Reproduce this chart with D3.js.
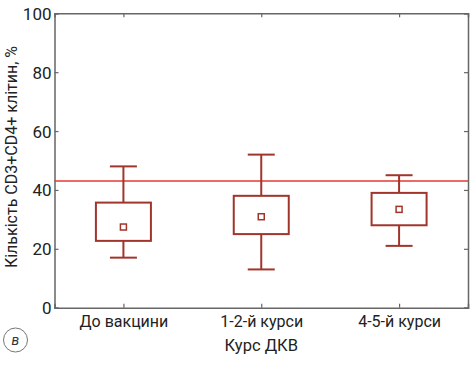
<!DOCTYPE html>
<html><head><meta charset="utf-8">
<script src="https://cdn.jsdelivr.net/npm/d3@7"></script>
<style>body{margin:0;background:#fff}svg{display:block}text{font-family:"Roboto","Noto Sans",sans-serif}</style>
</head><body>
<svg id="c" width="473" height="366"></svg>
<script>
const categories = ["До вакцини", "1-2-й курси", "4-5-й курси"];
const whiskerHigh = [48, 52, 45];
const boxHigh = [35.7, 38, 39];
const means = [27.4, 30.9, 33.4];
const boxLow = [22.7, 25, 28];
const whiskerLow = [17, 13, 21];
const refLine = 43;
const yTicks = [0, 20, 40, 60, 80, 100];

const svg = d3.select("#c");
const L = 54.5, R = 468, T = 13.3, B = 307.7;
const x = d3.scalePoint().domain(categories).range([L, R]).padding(0.5);
const y = d3.scaleLinear().domain([0, 100]).range([B, T]);
const boxCol = "#a1352c", frame = "#666";
const data = categories.map((c, i) => ({c, wh: whiskerHigh[i], bh: boxHigh[i], m: means[i], bl: boxLow[i], wl: whiskerLow[i]}));

// axes
const gl = svg.append("g").attr("transform", `translate(${L},0)`)
  .call(d3.axisLeft(y).tickValues(yTicks).tickSize(-4).tickPadding(3));
const gr = svg.append("g").attr("transform", `translate(${R},0)`)
  .call(d3.axisRight(y).tickValues(yTicks).tickSize(-4).tickFormat(""));
const gb = svg.append("g").attr("transform", `translate(0,${B})`)
  .call(d3.axisBottom(x).tickSize(-4).tickPadding(8));
const gt = svg.append("g").attr("transform", `translate(0,${T})`)
  .call(d3.axisTop(x).tickSize(-4).tickFormat(""));
[gl, gr, gb, gt].forEach(g => {
  g.selectAll(".domain").attr("stroke", frame).attr("stroke-width", 1.5);
  g.selectAll(".tick line").attr("stroke", frame).attr("stroke-width", 1.2);
  g.selectAll("text").attr("fill", "#222").attr("font-size", 17).attr("font-family", "Roboto, sans-serif");
});
gl.selectAll("text").attr("dy", "0.35em");
gb.selectAll("text").attr("font-size", 16);

// reference line
svg.append("line").attr("x1", L).attr("x2", R).attr("y1", y(refLine)).attr("y2", y(refLine))
  .attr("stroke", "#e5382f").attr("stroke-width", 1.5);

const bw = 55, cw = 27;
const g = svg.append("g").attr("stroke", boxCol).attr("stroke-width", 2).attr("fill", "none");
const grp = g.selectAll("g").data(data).join("g");
grp.append("line").attr("x1", d => x(d.c)).attr("x2", d => x(d.c)).attr("y1", d => y(d.wh)).attr("y2", d => y(d.bh));
grp.append("line").attr("x1", d => x(d.c)).attr("x2", d => x(d.c)).attr("y1", d => y(d.bl)).attr("y2", d => y(d.wl));
grp.append("line").attr("x1", d => x(d.c) - cw/2).attr("x2", d => x(d.c) + cw/2).attr("y1", d => y(d.wh)).attr("y2", d => y(d.wh));
grp.append("line").attr("x1", d => x(d.c) - cw/2).attr("x2", d => x(d.c) + cw/2).attr("y1", d => y(d.wl)).attr("y2", d => y(d.wl));
grp.append("rect").attr("x", d => x(d.c) - bw/2).attr("width", bw).attr("y", d => y(d.bh)).attr("height", d => y(d.bl) - y(d.bh)).attr("fill", "#fff");
grp.append("rect").attr("x", d => x(d.c) - 3).attr("y", d => y(d.m) - 3).attr("width", 6).attr("height", 6).attr("stroke-width", 1.5);

// axis titles
svg.append("text").attr("x", (L + R) / 2).attr("y", 351).attr("text-anchor", "middle")
  .attr("font-size", 16.5).attr("fill", "#222").text("Курс ДКВ");
svg.append("text").attr("transform", `translate(17,157) rotate(-90)`).attr("text-anchor", "middle")
  .attr("font-size", 16).attr("fill", "#222").text("Кількість CD3+CD4+ клітин, %");

// panel label
svg.append("circle").attr("cx", 15.5).attr("cy", 340).attr("r", 12).attr("fill", "#fff").attr("stroke", "#777").attr("stroke-width", 1);
svg.append("text").attr("x", 15.5).attr("y", 345).attr("text-anchor", "middle").attr("font-size", 14)
  .attr("font-style", "italic").attr("fill", "#333").text("в");
</script>
</body></html>
